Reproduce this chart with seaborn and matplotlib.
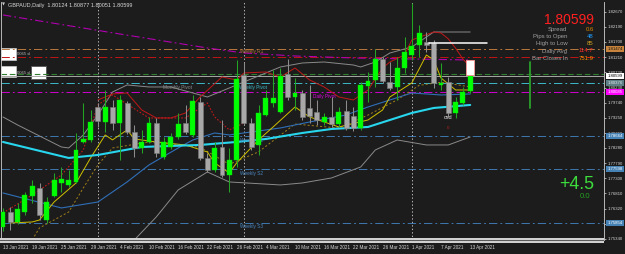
import numpy as np
import pandas as pd
import matplotlib
matplotlib.use("Agg")
import matplotlib.pyplot as plt
from matplotlib.patches import Rectangle
import seaborn as sns

# ---------------- data ----------------
title_text = "GBPAUD,Daily  1.80124 1.80877 1.80051 1.80599"
dates = pd.bdate_range("2021-01-13", "2021-04-13")

opens = [1.75725, 1.76209, 1.75886, 1.76209, 1.76726, 1.76985, 1.75951, 1.76726, 1.77146, 1.77082,
         1.77179, 1.78471, 1.78537, 1.79601, 1.79116, 1.79601, 1.79084, 1.79730, 1.78793, 1.78277,
         1.78471, 1.79084, 1.77986, 1.78309, 1.78632, 1.79084, 1.78697, 1.79762, 1.77954, 1.77567,
         1.78309, 1.77405, 1.77889, 1.80635, 1.79084, 1.78374, 1.79343, 1.79730, 1.79441, 1.80667,
         1.79924, 1.80053, 1.79569, 1.79441, 1.79116, 1.79278, 1.79052, 1.79472, 1.79310, 1.78923,
         1.80279, 1.80473, 1.81151, 1.80409, 1.80247, 1.80861, 1.81281, 1.81604, 1.81700, 1.81668,
         1.80312, 1.80409, 1.79407, 1.79730, 1.80124]
highs = [1.76339, 1.76371, 1.76500, 1.76855, 1.77243, 1.77146, 1.76694, 1.77469, 1.77663, 1.77567,
         1.78760, 1.79730, 1.79504, 1.79730, 1.80150, 1.79827, 1.79989, 1.79795, 1.79020, 1.78867,
         1.79278, 1.79246, 1.78632, 1.78761, 1.79407, 1.79666, 1.79989, 1.79924, 1.78115, 1.78471,
         1.79181, 1.78277, 1.81119, 1.81054, 1.79246, 1.79666, 1.80150, 1.80796, 1.80861, 1.81151,
         1.80538, 1.80150, 1.80312, 1.79827, 1.79407, 1.79924, 1.79601, 1.79827, 1.79601, 1.80409,
         1.80732, 1.81474, 1.81216, 1.81054, 1.81216, 1.81862, 1.82960, 1.82250, 1.82023, 1.81765,
         1.81022, 1.80570, 1.79924, 1.80247, 1.80877]
lows = [1.75596, 1.75628, 1.75822, 1.76112, 1.76500, 1.75951, 1.75854, 1.76694, 1.76855, 1.77017,
        1.77146, 1.78438, 1.78471, 1.78955, 1.78793, 1.78867, 1.77889, 1.78729, 1.77986, 1.78115,
        1.78438, 1.77986, 1.77921, 1.78244, 1.78567, 1.78729, 1.78632, 1.77889, 1.77501, 1.77501,
        1.77340, 1.76855, 1.77663, 1.79020, 1.78212, 1.78051, 1.79310, 1.79601, 1.79407, 1.79827,
        1.79504, 1.79181, 1.79084, 1.79020, 1.79020, 1.78955, 1.78955, 1.78867, 1.78826, 1.78867,
        1.79762, 1.80247, 1.80376, 1.80150, 1.79827, 1.80699, 1.81119, 1.81216, 1.81378, 1.80215,
        1.80150, 1.79278, 1.79246, 1.79666, 1.80051]
closes = [1.76209, 1.75886, 1.76306, 1.76758, 1.77049, 1.76112, 1.76532, 1.77243, 1.77275, 1.77243,
          1.78207, 1.78567, 1.79116, 1.79149, 1.79601, 1.79084, 1.79827, 1.78793, 1.78277, 1.78471,
          1.79084, 1.78115, 1.78471, 1.78632, 1.79052, 1.78793, 1.79795, 1.77954, 1.77567, 1.78277,
          1.77405, 1.77889, 1.80505, 1.79084, 1.78309, 1.79407, 1.79892, 1.79892, 1.80602, 1.79924,
          1.80053, 1.79278, 1.79310, 1.79181, 1.79278, 1.79052, 1.79441, 1.78923, 1.78923, 1.80312,
          1.80441, 1.81151, 1.80441, 1.80215, 1.80861, 1.81378, 1.81571, 1.81991, 1.81604, 1.80376,
          1.80376, 1.79407, 1.79762, 1.80085, 1.80599]

date_tick_idx = list(range(0, 65, 4))
date_tick_labels = [f"{d.day} {d.strftime('%b %Y')}" for d in dates[date_tick_idx]]
month_sep_idx = [13, 33, 56]

price_ticks = [1.82670, 1.82190, 1.81700, 1.81210, 1.80720, 1.80230, 1.79740, 1.79250,
               1.78760, 1.78280, 1.77790, 1.77300, 1.76810, 1.76320, 1.75830, 1.75340]

# indicator lines (bar index, price)
cyan_idx = [0, 9, 13, 19, 27, 32, 36, 41, 45, 50, 53, 56, 59, 64]
cyan_val = [1.78471, 1.77954, 1.78051, 1.78309, 1.78374, 1.78471, 1.78567, 1.78761, 1.78890,
            1.78955, 1.79181, 1.79407, 1.79569, 1.79666]
blue_idx = [0, 8, 13, 17, 20, 24, 26, 29, 31, 38, 42, 47, 50, 53, 56, 60, 64]
blue_val = [1.76823, 1.76339, 1.76532, 1.77179, 1.77728, 1.78277, 1.78535, 1.78761, 1.78697,
            1.78923, 1.79116, 1.79343, 1.79601, 1.79827, 1.80053, 1.79989, 1.80021]
yellow_idx = [1, 4, 5, 7, 10, 12, 14, 15, 17, 18, 21, 25, 28, 29, 31, 32, 35, 37, 40, 42, 46,
              50, 52, 53, 56, 58, 59, 60, 62, 64]
yellow_val = [1.75854, 1.75886, 1.75951, 1.76532, 1.77146, 1.77954, 1.78697, 1.78537, 1.78860,
              1.78567, 1.78471, 1.78374, 1.78147, 1.77792, 1.77469, 1.77792, 1.78535, 1.78955,
              1.79601, 1.79278, 1.78955, 1.79181, 1.79504, 1.79924, 1.80376, 1.81281, 1.81119,
              1.80538, 1.80150, 1.80150]
olive_idx = [4, 5, 9, 11, 13, 15, 20, 27, 31, 35, 40, 46, 50, 54, 57, 60, 64]
olive_val = [1.75308, 1.75696, 1.76209, 1.76985, 1.77728, 1.78277, 1.78470, 1.78300, 1.77750,
             1.78150, 1.79050, 1.78920, 1.79340, 1.79830, 1.80300, 1.80400, 1.80250]
bb_up_idx = [0, 2, 8, 9, 11, 13, 15, 17, 20, 23, 27, 28, 31, 38, 41, 44, 48, 49, 51, 53, 56, 59, 64]
bb_up_val = [1.79278, 1.79020, 1.78309, 1.78277, 1.78697, 1.79343, 1.80085, 1.80312, 1.80247,
             1.80247, 1.79989, 1.79924, 1.80215, 1.80893, 1.81022, 1.81054, 1.80957, 1.80893,
             1.81054, 1.81345, 1.81539, 1.82023, 1.82023]
bb_lo_idx = [17, 18, 21, 24, 28, 31, 38, 41, 45, 49, 51, 54, 58, 61, 64]
bb_lo_val = [1.75145, 1.75308, 1.76049, 1.76922, 1.77501, 1.77179, 1.77082, 1.77146, 1.77308,
             1.77663, 1.78212, 1.78535, 1.78374, 1.78374, 1.78632]
red_idx = [13, 15, 17, 19, 21, 23, 25, 27, 30, 32, 33, 36, 38, 40, 42, 44, 46, 48, 50, 52, 53,
           55, 56, 59, 60, 61, 62, 63, 64]
red_val = [1.79827, 1.80021, 1.80053, 1.79504, 1.79246, 1.79246, 1.79407, 1.79924, 1.80570,
           1.80473, 1.80699, 1.80732, 1.80570, 1.80861, 1.80473, 1.80247, 1.79924, 1.79827,
           1.80150, 1.80861, 1.81054, 1.81281, 1.81765, 1.82023, 1.81991, 1.81800, 1.81500,
           1.81150, 1.80893]
red_dot_idx = [0, 4, 8, 11, 13, 15, 20, 25, 28, 29, 31, 33]
red_dot_val = [1.76177, 1.76758, 1.77404, 1.78212, 1.79666, 1.79989, 1.79246, 1.79246, 1.79730,
               1.79278, 1.78858, 1.79084]
mag_idx = [0, 16, 28, 33, 40, 48, 56, 64]
mag_val = [1.82573, 1.81959, 1.81507, 1.81345, 1.81248, 1.81184, 1.81151, 1.81119]

# horizontal levels
weekly_r1 = 1.81474
stop_level = 1.81216
target_level = 1.80667
bid_price = 1.80599
weekly_pivot = 1.80376
daily_pivot = 1.80085
weekly_s1 = 1.78664
weekly_s2 = 1.77598
weekly_s3 = 1.75854
range_top, range_bottom = 1.81054, 1.79569
hline_level = 1.81668

panel_labels = ["Spread", "Pips to Open", "High to Low", "Daily Avg", "Bar Closes In"]
panel_values = ["0.6", "48", "85", "114.7", "751:9"]
panel_colors = ["#e08a00", "#1e9fff", "#d2a020", "#ff2a2a", "#ff8c00"]
big_change = "+4.5"
small_change = "0.0"

# ---------------- style ----------------
BG = "#1c1c1c"
sns.set_style("dark", {"axes.facecolor": BG, "figure.facecolor": BG})
plt.rcParams["font.family"] = ["Liberation Sans", "DejaVu Sans"]
plt.rcParams["lines.scale_dashes"] = False

W, H = 625, 254
fig = plt.figure(figsize=(W / 100, H / 100), dpi=100, facecolor=BG)
fx = lambda x: x / W
fy = lambda y: 1 - y / H
ax = fig.add_axes([fx(1.5), fy(239.5), fx(604) - fx(1.5), fy(2) - fy(239.5)])
ax.set_facecolor(BG)

DASHDOT = (0, (6, 2.2, 1.3, 2.2))

# horizontal pivot lines
ax.axhline(weekly_r1, color="#b8783c", lw=0.7, ls=DASHDOT, zorder=1)
ax.axhline(stop_level, color="#c01414", lw=0.7, ls=DASHDOT, zorder=1)
ax.axhline(target_level, color="#2f7f2f", lw=0.8, ls=(0, (4, 2)), zorder=1)
ax.axhline(bid_price, color="#a8a8a8", lw=0.7, zorder=1)
ax.axhline(weekly_pivot, color="#3cb8c8", lw=0.7, ls=DASHDOT, zorder=1)
ax.axhline(daily_pivot, color="#d000d0", lw=0.7, ls=DASHDOT, zorder=1)
for lv in (weekly_s1, weekly_s2, weekly_s3):
    ax.axhline(lv, color="#3f78b0", lw=0.7, ls=DASHDOT, zorder=1)

for s in month_sep_idx:
    ax.axvline(s, color="#cfcfcf", lw=0.6, ls=(0, (1, 1.5)), zorder=1)

# indicators through seaborn
def ind(xs, ys, **kw):
    sns.lineplot(x=xs, y=ys, ax=ax, legend=False, sort=True, **kw)

ind(mag_idx, mag_val, color="#b000b0", linewidth=0.8, linestyle=DASHDOT, zorder=2)
ind(bb_up_idx, bb_up_val, color="#8a8a8a", linewidth=0.7, zorder=2)
ind(bb_lo_idx, bb_lo_val, color="#8a8a8a", linewidth=0.7, zorder=2)
ind(red_idx, red_val, color="#c01818", linewidth=0.7, zorder=2)
ind(red_dot_idx, red_dot_val, color="#c01818", linewidth=0.8, linestyle=(0, (1.2, 1.2)), zorder=2)
ind(olive_idx, olive_val, color="#a08018", linewidth=0.7, linestyle=(0, (1.5, 1.5)), zorder=2)
ind(blue_idx, blue_val, color="#2f6fb8", linewidth=0.8, zorder=2)
ind(yellow_idx, yellow_val, color="#cfc000", linewidth=0.7, zorder=2)
ind(cyan_idx, cyan_val, color="#28d7ee", linewidth=1.5, zorder=2)

# candles
o, h, l, c = (np.array(v) for v in (opens, highs, lows, closes))
idx = np.arange(len(o))
up = c >= o
ax.vlines(idx[up], l[up], h[up], color="#24a424", lw=0.75, zorder=4)
ax.vlines(idx[~up], l[~up], h[~up], color="#8c8c8c", lw=0.75, zorder=4)
body = np.maximum(np.abs(c - o), 0.00012)
ax.bar(idx[up], body[up], bottom=np.minimum(o, c)[up], width=0.68, color="#00ff00",
       edgecolor="#00e000", lw=0.3, zorder=5)
ax.bar(idx[~up], body[~up], bottom=np.minimum(o, c)[~up], width=0.68, color="#a8a8a8",
       edgecolor="#7a7a7a", lw=0.4, zorder=5)

# objects
ax.add_patch(Rectangle((-0.45, stop_level - 0.0010), 2.25, weekly_r1 - stop_level + 0.0013,
                       fc="white", ec="#dddddd", lw=0.4, zorder=0.5))
ax.add_patch(Rectangle((-0.45, bid_price - 0.0003), 2.25, target_level - bid_price + 0.0029,
                       fc="white", ec="#dddddd", lw=0.4, zorder=0.5))
ax.add_patch(Rectangle((3.85, bid_price - 0.0009), 2.05, target_level - bid_price + 0.0035,
                       fc="white", ec="#555555", lw=0.6, zorder=0.5))
ax.text(1.85, stop_level + 0.0009, "0065 sl", color="#b0b0b0", fontsize=3.1, va="center", zorder=1)
ax.text(1.85, target_level + 0.0003, "0065 sl", color="#b0b0b0", fontsize=3.1, va="center", zorder=1)
ax.add_patch(Rectangle((idx[-1] - 0.55, c[-1] + 0.0004), 1.1, 0.0048,
                       fc="white", ec="#ff9a9a", lw=0.6, zorder=6))
ax.plot([58.3, 66.3], [hline_level, hline_level], color="white", lw=1.1, zorder=6)
ax.plot([72.2, 72.2], [range_bottom, range_top], color="#2aa02a", lw=1.3, zorder=6)
ax.text(61, l[61] - 0.0003, "csd", color="#e8e8e8", fontsize=4, ha="center", va="center", zorder=7)
ax.text(61, l[61] - 0.0035, "0", color="#c02020", fontsize=3.2, ha="center", va="center", zorder=7)

# pivot labels
ax.text(32.5, weekly_r1 - 0.0009, "Weekly R1", color="#b8783c", fontsize=3.4, va="center", zorder=3)
ax.text(32.3, weekly_pivot - 0.0013, "Weekly Pivot", color="#3cb8c8", fontsize=3.4, va="center", zorder=3)
ax.text(21.9, weekly_pivot - 0.0013, "Monthly Pivot", color="#8c8c8c", fontsize=3.4, va="center", zorder=3)
ax.text(42.5, daily_pivot - 0.0013, "Daily Pivot", color="#e000e0", fontsize=3.4, va="center", zorder=3)
for name, lv in (("Weekly S1", weekly_s1), ("Weekly S2", weekly_s2), ("Weekly S3", weekly_s3)):
    ax.text(32.5, lv - 0.0013, name, color="#4a86c0", fontsize=3.4, va="center", zorder=3)

# axes
ax.set_xlim((1.5 - 3) / 7.3, (604 - 3) / 7.3)
ax.set_ylim(1.75320, 1.82992)
ax.yaxis.tick_right()
ax.set_yticks(price_ticks)
ax.set_yticklabels([f"{v:.5f}" for v in price_ticks])
ax.tick_params(axis="y", colors="#d8d8d8", labelsize=3.1, length=1.5, width=0.5, pad=1.2)
ax.set_xticks(date_tick_idx)
ax.set_xticklabels(date_tick_labels)
ax.tick_params(axis="x", colors="#d8d8d8", labelsize=3.3, length=0, pad=4.3)
for t in ax.get_xticklabels():
    t.set_ha("left")
ax.set_xlabel("")
ax.set_ylabel("")
ax.grid(False)
for side in ("top", "bottom"):
    ax.spines[side].set_visible(False)
for side in ("left", "right"):
    ax.spines[side].set_visible(True)
    ax.spines[side].set_color("#cfcfcf")
    ax.spines[side].set_linewidth(0.6)

# highlighted price labels on the right axis
ytr = ax.get_yaxis_transform()
for lv, fc, tc in ((weekly_r1, "#c8843c", "#101010"), (bid_price, "#ffffff", "#000000"),
                   (weekly_pivot, "#5d7f86", "#e8e8e8"), (daily_pivot, "#ff00ff", "#ffffff"),
                   (weekly_s1, "#4682b4", "#ffffff"), (weekly_s2, "#4682b4", "#ffffff"),
                   (weekly_s3, "#4682b4", "#ffffff")):
    ax.text(1 + 3.5 / 602.5, lv, f"{lv:.5f}", transform=ytr, fontsize=3.1, color=tc,
            ha="left", va="center", zorder=8,
            bbox=dict(boxstyle="square,pad=0.25", fc=fc, ec="none"))

# time axis band
fig.add_artist(Rectangle((0, fy(243)), fx(604), 4.6 / H, transform=fig.transFigure,
                         fc="#d0d0d0", ec="none", zorder=10))
fig.add_artist(Rectangle((0, fy(241.2)), fx(604), 1.0 / H, transform=fig.transFigure,
                         fc="#5a5a5a", ec="none", zorder=11))

# title
fig.text(fx(1.5), fy(5), "\u25bc", fontsize=2.8, color="#d0d0d0", va="center",
         family=["DejaVu Sans"])
fig.text(fx(8), fy(5), title_text, fontsize=4, color="#d8d8d8", va="center")

# info panel
fig.text(fx(594), fy(20.5), f"{c[-1]:.5f}", fontsize=10, color="#ff2020", ha="right", va="center")
rows_y = [29.5, 36.5, 43.5, 51, 58]
for lab, val, col, yy in zip(panel_labels, panel_values, panel_colors, rows_y):
    fig.text(fx(567.5), fy(yy), lab, fontsize=4.3, color="#a0a0a0", ha="right", va="center")
    fig.text(fx(593.5), fy(yy), val, fontsize=4.3, color=col, ha="right", va="center")
fig.text(fx(594), fy(184.5), big_change, fontsize=12.8, color="#3ddc3d", ha="right", va="center")
fig.text(fx(585.5), fy(196.5), small_change, fontsize=5.6, color="#22a022", ha="center", va="center")

fig.savefig("out.png", dpi=100, facecolor=BG)
